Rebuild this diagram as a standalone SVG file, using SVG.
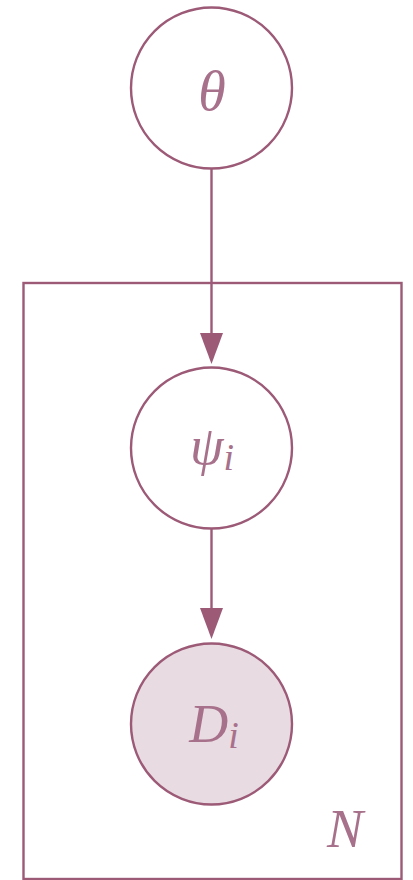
<svg xmlns="http://www.w3.org/2000/svg" width="413" height="880" viewBox="0 0 413 880">
<style>
.node{fill:#ffffff;stroke:#9c5a77;stroke-width:2.4}
.obs{fill:#e8dbe1}
.plate{fill:none;stroke:#9c5a77;stroke-width:2.4}
.edge{stroke:#9c5a77;stroke-width:2.4;fill:none}
.head{fill:#9c5a77}
.lbl{font-family:"Liberation Serif","DejaVu Serif",serif;font-style:italic;fill:#a8718b;text-anchor:middle}
</style>
<rect width="413" height="880" fill="#ffffff"/>
<g id="plate">
<rect class="plate" x="23.5" y="283" width="378" height="596"/>
<text class="lbl" x="345" y="847" font-size="54">N</text>
</g>
<g id="connectors">
<line class="edge" x1="211.5" y1="169" x2="211.5" y2="336"/>
<path class="head" d="M200,333 L223,333 L211.5,364 Z"/>
<line class="edge" x1="211.5" y1="528" x2="211.5" y2="611"/>
<path class="head" d="M200,608 L223,608 L211.5,639 Z"/>
</g>
<g id="theta">
<circle class="node" cx="211.5" cy="88" r="80.5"/>
<text class="lbl" x="212" y="110" font-size="56">θ</text>
</g>
<g id="psi">
<circle class="node" cx="211.5" cy="448" r="80.5"/>
<text class="lbl" x="212" y="464" font-size="54">ψ<tspan font-size="38" dy="6">i</tspan></text>
</g>
<g id="D">
<circle class="node obs" cx="211.5" cy="724" r="80.5"/>
<text class="lbl" x="214" y="742" font-size="54">D<tspan font-size="38" dy="6">i</tspan></text>
</g>
</svg>
